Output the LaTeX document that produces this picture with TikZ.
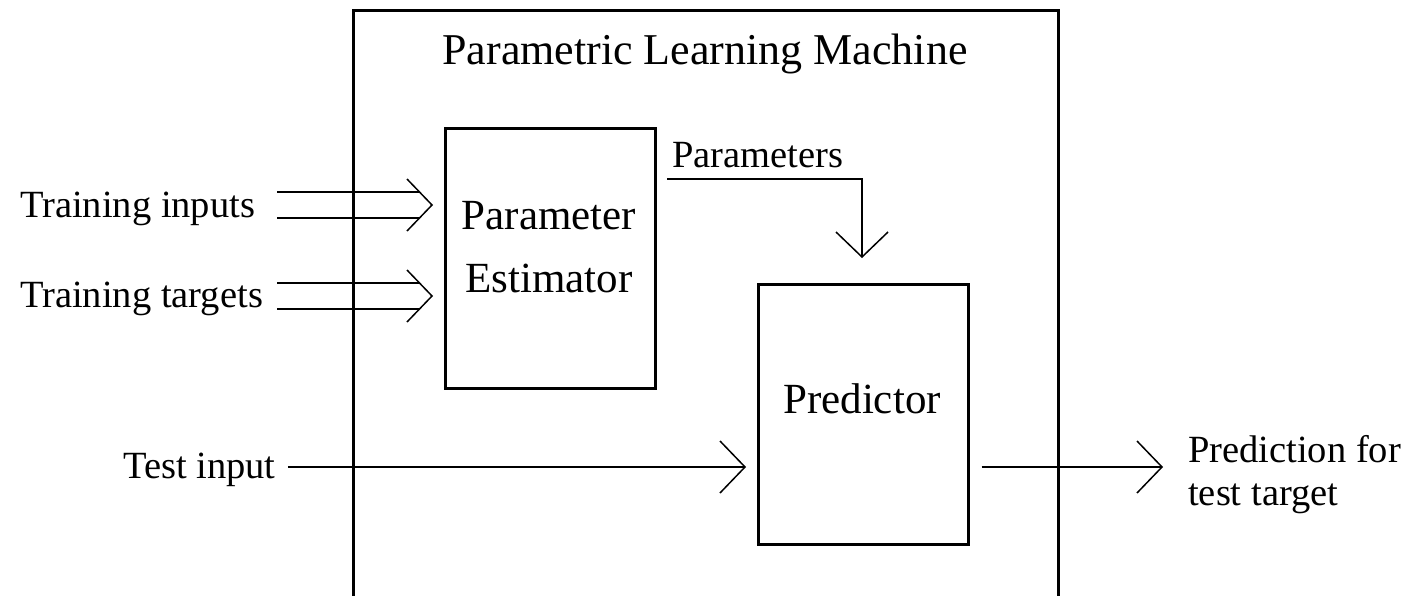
\documentclass[tikz,border=0pt]{standalone}
\usepackage{fontspec}
\setmainfont{Liberation Serif}
\tikzset{
  box/.style={draw, line width=2.5pt, inner sep=0pt},
  ln/.style={line width=1.5pt},
  lab/.style={inner sep=0pt, font=\fontsize{38.5}{43}\selectfont},
  big/.style={inner sep=0pt, font=\fontsize{43}{63}\selectfont},
  ttl/.style={inner sep=0pt, font=\fontsize{44}{50}\selectfont},
}
\begin{document}
\begin{tikzpicture}[x=1pt,y=-1pt]
\useasboundingbox (0,0) rectangle (1408,595);
% boxes
\node[box, minimum width=210pt, minimum height=260pt, anchor=north west] (pe) at (444,127) {};
\node[big, anchor=base] (peT1) at (549,229) {Parameter};
\node[big, anchor=base] (peT2) at (549,292) {Estimator};
\node[box, minimum width=210pt, minimum height=260pt, anchor=north west] (pr) at (757,283) {};
\node[big, anchor=base] (prT) at (862,413) {Predictor};
\node[ttl, anchor=base] (title) at (705,64) {Parametric Learning Machine};
% labels
\node[lab, anchor=base west] (tin) at (20,217) {Training inputs};
\node[lab, anchor=base west] (ttg) at (20,307) {Training targets};
\node[lab, anchor=base west] (tst) at (123,478) {Test input};
\node[lab, anchor=base west, inner xsep=5pt] (par) at (667,167) {Parameters};
\node[lab, anchor=base west] (out1) at (1188,462) {Prediction for};
\node[lab, anchor=base west] (out2) at (1188,505) {test target};
% tips
\coordinate (tinTip) at (432,205);
\coordinate (ttgTip) at (432,296);
\coordinate (tstTip) at (745,467);
\coordinate (outTip) at (1162,467);
\coordinate (parCorner) at (862,179);
\coordinate (parTip) at (862,257);
\coordinate (tinU) at ([yshift=13pt]tinTip);
\coordinate (tinD) at ([yshift=-13pt]tinTip);
\coordinate (ttgU) at ([yshift=13pt]ttgTip);
\coordinate (ttgD) at ([yshift=-13pt]ttgTip);
% training inputs (double)
\draw[ln, shorten <=22pt, shorten >=12.5pt] (tin.east |- tinU) -- (tinU);
\draw[ln, shorten <=22pt, shorten >=12.5pt] (tin.east |- tinD) -- (tinD);
\draw[ln] ([xshift=-25pt,yshift=26pt]tinTip) -- (tinTip) -- ([xshift=-25pt,yshift=-26pt]tinTip);
% training targets (double)
\draw[ln, shorten <=14pt, shorten >=12.5pt] (ttg.east |- ttgU) -- (ttgU);
\draw[ln, shorten <=14pt, shorten >=12.5pt] (ttg.east |- ttgD) -- (ttgD);
\draw[ln] ([xshift=-25pt,yshift=26pt]ttgTip) -- (ttgTip) -- ([xshift=-25pt,yshift=-26pt]ttgTip);
% test input
\draw[ln, shorten <=12pt] (tst.east |- tstTip) -- (tstTip);
\draw[ln] ([xshift=-25pt,yshift=26pt]tstTip) -- (tstTip) -- ([xshift=-25pt,yshift=-26pt]tstTip);
% output
\draw[ln, shorten <=12pt] (pr.east |- outTip) -- (outTip);
\draw[ln] ([xshift=-25pt,yshift=26pt]outTip) -- (outTip) -- ([xshift=-25pt,yshift=-26pt]outTip);
% parameters
\draw[ln] (par.west |- parCorner) -- (parCorner) -- (parTip);
\draw[ln] ([xshift=-26pt,yshift=25pt]parTip) -- (parTip) -- ([xshift=26pt,yshift=25pt]parTip);
% outer machine box (open past the bottom edge)
\node[box, minimum width=705pt, minimum height=640pt, anchor=north west] (plm) at (352,9) {};
\end{tikzpicture}
\end{document}
